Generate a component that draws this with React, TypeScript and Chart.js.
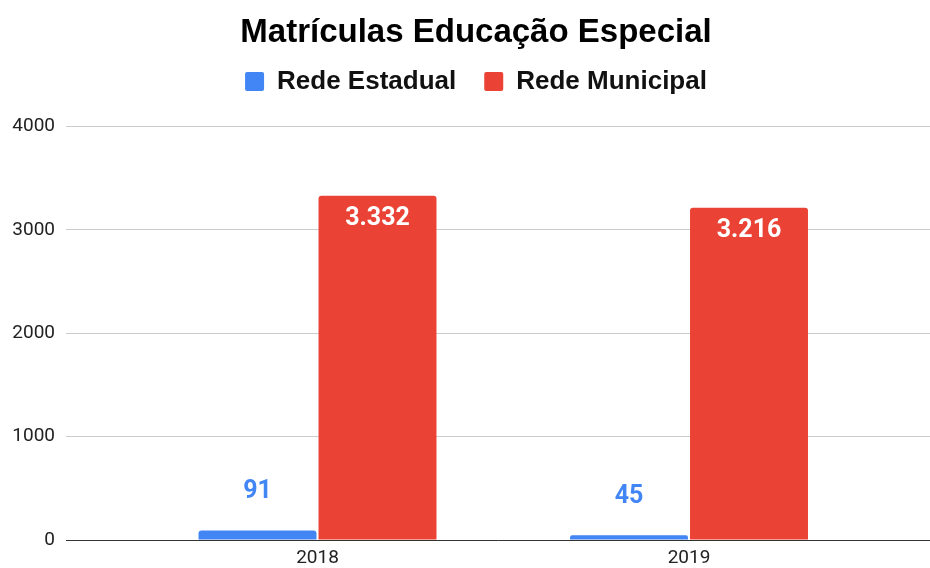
import React, { useEffect, useRef } from "react";
import { Chart, registerables } from "chart.js";

Chart.register(...registerables);

const title = "Matrículas Educação Especial";
const categories = ["2018", "2019"];
const seriesNames = ["Rede Estadual", "Rede Municipal"];
const estadual = [91, 45];
const municipal = [3332, 3216];
const seriesColors = ["#4285F4", "#EA4335"];
const yTicks = [0, 1000, 2000, 3000, 4000];

const fmt = (v: number) => String(v).replace(/\B(?=(\d{3})+(?!\d))/g, ".");

const headerLayout = {
  id: "headerLayout",
  beforeInit(chart: any) {
    const orig = chart.legend.fit;
    chart.legend.fit = function () {
      orig.call(this);
      this.height += 22;
    };
  },
  afterLayout(chart: any) {
    if (chart.titleBlock) chart.titleBlock.left += 22;
    if (chart.legend) chart.legend.left += 22;
  },
};

const dataLabels = {
  id: "dataLabels",
  afterDatasetsDraw(chart: any) {
    const ctx = chart.ctx;
    chart.data.datasets.forEach((ds: any, di: number) => {
      const meta = chart.getDatasetMeta(di);
      meta.data.forEach((bar: any, i: number) => {
        const txt = fmt(ds.data[i]);
        ctx.save();
        ctx.font = "bold 25px Roboto";
        ctx.textAlign = "center";
        ctx.textBaseline = "middle";
        if (di === 1) {
          ctx.fillStyle = "#ffffff";
          ctx.fillText(txt, bar.x, bar.y + 23);
        } else {
          ctx.fillStyle = seriesColors[0];
          ctx.fillText(txt, bar.x, bar.y - 39);
        }
        ctx.restore();
      });
    });
  },
};

export default function App() {
  const ref = useRef<HTMLCanvasElement>(null);
  useEffect(() => {
    const chart = new Chart(ref.current!, {
      type: "bar",
      data: {
        labels: categories,
        datasets: [
          {
            label: seriesNames[0],
            data: estadual,
            backgroundColor: seriesColors[0],
            borderWidth: 0,
            borderRadius: 3,
            categoryPercentage: 0.646,
            barPercentage: 0.983,
          },
          {
            label: seriesNames[1],
            data: municipal,
            backgroundColor: seriesColors[1],
            borderWidth: 0,
            borderRadius: 3,
            categoryPercentage: 0.646,
            barPercentage: 0.983,
          },
        ],
      },
      options: {
        responsive: false,
        animation: false,
        layout: { padding: { left: 0, right: 0, top: 0, bottom: 0 } },
        plugins: {
          title: {
            display: true,
            text: title,
            color: "#000",
            font: { family: "'Liberation Sans', Arial, sans-serif", size: 33, weight: "bold" },
            padding: { top: 13, bottom: -12 },
          },
          legend: {
            display: true,
            labels: {
              boxWidth: 19,
              boxHeight: 19,
              useBorderRadius: true,
              borderRadius: 2,
              padding: 28,
              color: "#111",
              font: { family: "'Liberation Sans', Arial, sans-serif", size: 26, weight: "bold" },
            },
          },
          tooltip: { enabled: false },
        },
        scales: {
          x: {
            grid: { display: false, drawTicks: false },
            border: { display: true, color: "#333", width: 1 },
            ticks: {
              padding: 7,
              color: "#222",
              font: { family: "Roboto", size: 19 },
            },
            afterFit(scale: any) {
              scale.height = 28;
            },
            afterBuildTicks(scale: any) {
              scale._startValue = -0.677;
              scale._valueRange = 2.3257;
            },
          },
          y: {
            min: 0,
            max: 4000,
            afterBuildTicks(scale: any) {
              scale.ticks = yTicks.map((v) => ({ value: v }));
            },
            grid: { color: "#cccccc", drawTicks: false },
            border: { display: false },
            ticks: {
              padding: 11,
              color: "#222",
              font: { family: "Roboto", size: 19 },
              callback: (v: any) => String(v),
            },
            afterFit(scale: any) {
              scale.width = 66;
            },
          },
        },
      },
      plugins: [headerLayout, dataLabels],
    });
    return () => chart.destroy();
  }, []);
  return (
    <div style={{ position: "fixed", left: 0, top: 0, width: 930, height: 568, background: "#fff" }}>
      <canvas ref={ref} width={930} height={568} />
    </div>
  );
}
